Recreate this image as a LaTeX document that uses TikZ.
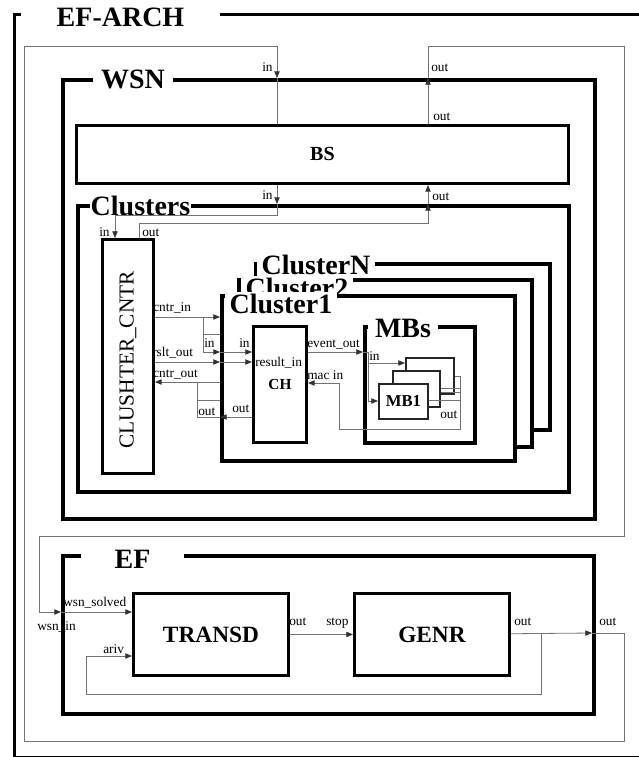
\documentclass[tikz,border=0pt]{standalone}
\usepackage{fontspec}
\setmainfont{Liberation Serif}
\usetikzlibrary{arrows.meta}
\tikzset{
  frame/.style={draw, line width=2.7pt, fill=white, anchor=north west, inner sep=0},
  ttl/.style={fill=white, inner sep=0, inner ysep=1pt, anchor=base, font=\bfseries\fontsize{21}{21}\selectfont},
  box/.style={draw, line width=2.2pt, fill=white, anchor=north west, inner sep=0},
  mbbox/.style={draw=black!85, line width=1.4pt, fill=white, anchor=north west, inner sep=0},
  wire/.style={draw=black!55, line width=0.6pt},
  arr/.style={-{Triangle[length=5pt,width=4pt,color=black!80]}},
  lbl/.style={inner sep=0, anchor=base west, font=\fontsize{10}{10}\selectfont}
}
\begin{document}
\begin{tikzpicture}[x=0.75pt,y=-0.75pt]
    \useasboundingbox (0,0) rectangle (639,757);
    % coupled models
    \node[frame, line width=2.6pt, minimum width=485.25pt, minimum height=557.25pt] (efarch) at (13,13) {};
    \node[ttl, minimum width=149.25pt] (efarchT) at (120.5,26) {EF-ARCH};
    \node[frame, minimum width=399pt, minimum height=329.25pt] (wsn) at (61,78) {};
    \node[ttl, minimum width=60pt] (wsnT) at (133,88) {WSN};
    \node[box, minimum width=369pt, minimum height=43.5pt, font=\bfseries\fontsize{15}{15}\selectfont] (bs) at (75,124) {BS};
    \node[frame, minimum width=368.25pt, minimum height=214.5pt] (clusters) at (76,204) {};
    \node[ttl, minimum width=75.75pt] (clustersT) at (140.5,215) {Clusters};
    \node[box, minimum width=38.25pt, minimum height=175.5pt] (cntr) at (101,238) {};
    \node[rotate=90, inner sep=0, font=\fontsize{16}{16}\selectfont] (cntrT) at (128,360) {CLUSHTER\_CNTR};
    % stack of clusters
    \node[frame, minimum width=220.5pt, minimum height=124.5pt] (clN) at (254,262) {};
    \node[ttl, minimum width=88.5pt] (clNT) at (316,274) {ClusterN};
    \node[frame, minimum width=219.75pt, minimum height=125.25pt] (cl2) at (237,278) {};
    \node[ttl, minimum width=84pt] (cl2T) at (297,297) {Cluster2};
    \node[frame, minimum width=219.75pt, minimum height=123.75pt] (cl1) at (220,294) {};
    \node[ttl, minimum width=84pt] (cl1T) at (281,313) {Cluster1};
    \node[box, minimum width=39.75pt, minimum height=87pt, font=\bfseries\fontsize{11.5}{11.5}\selectfont] (ch) at (252,325) {CH};
    \node[frame, minimum width=82.5pt, minimum height=87pt] (mbs) at (363,325) {};
    \node[ttl, minimum width=52.5pt] (mbsT) at (403,337) {MBs};
    \node[mbbox, minimum width=36pt, minimum height=27pt] (mb3) at (405,357) {};
    \node[mbbox, minimum width=35.25pt, minimum height=27pt] (mb2) at (392,370) {};
    \node[mbbox, minimum width=36.75pt, minimum height=26.25pt, font=\bfseries\fontsize{12.5}{12.5}\selectfont] (mb1) at (378,383) {MB1};
    % experimental frame
    \node[frame, minimum width=398.25pt, minimum height=118.5pt] (ef) at (61,554) {};
    \node[ttl, minimum width=77.25pt] (efT) at (132.5,568) {EF};
    \node[box, minimum width=116.25pt, minimum height=61.5pt, font=\bfseries\fontsize{17.5}{17.5}\selectfont] (transd) at (132,592) {TRANSD};
    \node[box, minimum width=116.25pt, minimum height=61.5pt, font=\bfseries\fontsize{17.5}{17.5}\selectfont] (genr) at (353,592) {GENR};
    % ports
    \coordinate (wsnIn) at (277,78);   \coordinate (wsnOut) at (428,78);
    \coordinate (clsIn) at (277,204);  \coordinate (clsOut) at (428,204);
    \coordinate (cntrIn) at (115,238); \coordinate (cntrOut) at (139,238);
    \coordinate (c1CntrIn) at (220,317); \coordinate (c1In) at (220,352);
    \coordinate (c1Rslt) at (220,362);   \coordinate (c1CntrOut) at (220,382);
    \coordinate (c1Out) at (220,417);    \coordinate (mbsIn) at (363,352);
    \coordinate (efIn) at (61,612);    \coordinate (efOut) at (592,633);
    % couplings
    \draw[wire,arr] (efOut) -- (624,633) -- (624,741) -- (24,741) -- (24,46) -- (277,46) -- (wsnIn);
    \draw[wire] (wsnIn) -- (bs.north -| wsnIn);
    \draw[wire,arr] (bs.north -| wsnOut) -- (wsnOut);
    \draw[wire,arr] (wsnOut) -- (428,46) -- (624,46) -- (624,536) -- (39,536) -- (39,612) -- (efIn);
    \draw[wire,arr] (efIn) -- (transd.west |- efIn);
    \draw[wire,arr] (bs.south -| clsIn) -- (clsIn);
    \draw[wire,arr] (clsIn) -- (277,215) -| (cntrIn);
    \draw[wire,arr] (cntrOut) -- (139,223) -- (428,223) -- (clsOut);
    \draw[wire,arr] (clsOut) -- (bs.south -| clsOut);
    \draw[wire,arr] (cntr.east |- c1CntrIn) -- (c1CntrIn);
    \draw[wire,arr] (203,317) -- (203,352) -- (c1In);
    \draw[wire] (203,334) -- (220,334);
    \draw[wire,arr] (c1In) -- (ch.west |- c1In);
    \draw[wire,arr] (cntr.east |- c1Rslt) -- (c1Rslt);
    \draw[wire,arr] (c1Rslt) -- (ch.west |- c1Rslt);
    \draw[wire,arr] (c1CntrOut) -- (cntr.east |- c1CntrOut);
    \draw[wire,arr] (ch.west |- c1Out) -- (c1Out);
    \draw[wire] (c1Out) -- (197,417) -- (197,382);
    \draw[wire] (197,400) -- (220,400);
    \draw[wire,arr] (ch.east |- mbsIn) -- (mbsIn);
    \draw[wire] (mbsIn) -- (368,352) -- (368,401);
    \draw[wire,arr] (368,363) -- (mb3.west |- 0,363);
    \draw[wire,arr] (368,401) -- (mb1.west |- 0,401);
    \draw[wire] (mb3.east |- 0,376) -- (460,376);
    \draw[wire] (mb2.east |- 0,388) -- (460,388);
    \draw[wire] (mb2.east |- 0,392) -- (460,392);
    \draw[wire] (mb1.east |- 0,400) -- (460,400);
    \draw[wire,arr] (460,376) -- (460,429) -- (339,429) -- (339,383) -- (ch.east |- 0,383);
    \draw[wire,arr] (transd) -- (genr);
    \draw[wire,arr] (genr) -- (efOut);
    \draw[wire,arr] (541,633) -- (541,694) -- (86,694) -- (86,656) -- (transd.west |- 0,656);
    % port names
    \node[lbl] (lWsnIn) at (262,71) {in};     \node[lbl] (lWsnOut) at (431,71) {out};
    \node[lbl] (lBsOut) at (433,120) {out};   \node[lbl] (lClsIn) at (262,199) {in};
    \node[lbl] (lClsOut) at (432,200) {out};  \node[lbl] (lCntrIn) at (99,236) {in};
    \node[lbl] (lCntrOut) at (142,236) {out};
    \node[lbl] (lCntrIn2) at (153,311) {cntr\_in};
    \node[lbl] (lRslt) at (152,356) {rslt\_out};
    \node[lbl] (lCntrOut2) at (153,377) {cntr\_out};
    \node[lbl] (lC1In) at (204,347) {in};     \node[lbl] (lC1Out) at (198,415) {out};
    \node[lbl] (lChIn) at (239,347) {in};     \node[lbl] (lChOut) at (232,412) {out};
    \node[lbl] (lResult) at (255,366) {result\_in};
    \node[lbl] (lEvent) at (307,347) {event\_out};
    \node[lbl] (lMac) at (307,379) {mac in};
    \node[lbl] (lMbsIn) at (369,360) {in};    \node[lbl] (lMbsOut) at (440,418) {out};
    \node[lbl] (lSolved) at (63,606) {wsn\_solved};
    \node[lbl] (lEfIn) at (37,630) {wsn\_in};
    \node[lbl] (lAriv) at (103,653) {ariv};
    \node[lbl] (lTrOut) at (289,625) {out};   \node[lbl] (lStop) at (326,625) {stop};
    \node[lbl] (lGeOut) at (514,625) {out};   \node[lbl] (lEfOut) at (599,625) {out};
\end{tikzpicture}
\end{document}
